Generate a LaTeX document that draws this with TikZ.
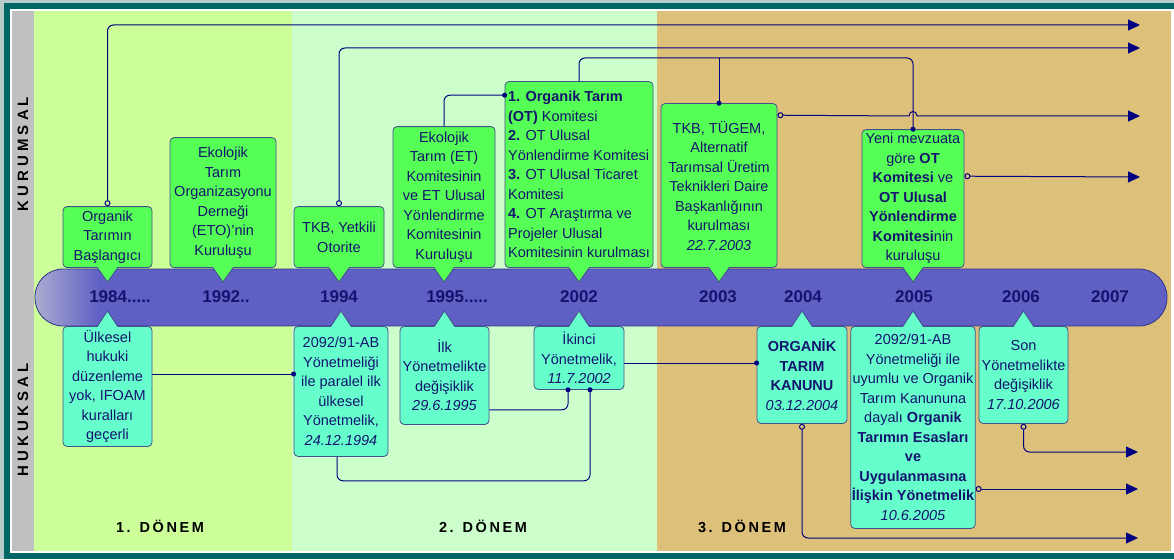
\documentclass[tikz,border=0pt]{standalone}
\usepackage{fontspec}
\setmainfont{Liberation Sans}
\newfontfamily\sidefont[LetterSpace=27]{Liberation Sans}
\newfontfamily\periodfont[LetterSpace=18]{Liberation Sans}
\usetikzlibrary{arrows.meta}

\definecolor{framefringe}{HTML}{B8CCCC}
\definecolor{framecol}{HTML}{006666}
\definecolor{stripgrey}{HTML}{C0C0C0}
\definecolor{zoneone}{HTML}{CCFF99}
\definecolor{zonetwo}{HTML}{CCFFCC}
\definecolor{zonethree}{HTML}{DDC07A}
\definecolor{barblue}{HTML}{5F5FC4}
\definecolor{barlight}{HTML}{ABABD2}
\definecolor{barline}{HTML}{33338C}
\definecolor{topgreen}{HTML}{55FF55}
\definecolor{lowaqua}{HTML}{66FFCC}
\definecolor{boxline}{HTML}{44508A}
\definecolor{navytext}{HTML}{14146E}
\definecolor{linknavy}{HTML}{000080}

\begin{document}
\begin{tikzpicture}[x=1pt, y=-1pt,
    tag/.style={draw=boxline, line width=0.8pt, rounded corners=4pt, align=center,
        text=navytext, font=\fontsize{14.5}{19.5}\selectfont, inner xsep=1pt, inner ysep=0pt},
    toptag/.style={tag, fill=topgreen, anchor=south},
    lowtag/.style={tag, fill=lowaqua, anchor=north},
    yearlabel/.style={font=\fontsize{17}{20}\selectfont\bfseries, text=navytext},
    periodlabel/.style={font=\periodfont\fontsize{14.5}{18}\selectfont\bfseries},
    sidelabel/.style={font=\sidefont\fontsize{15}{18}\selectfont\bfseries, rotate=90},
    link/.style={draw=linknavy, line width=1pt, rounded corners=6pt},
    dotend/.style={-{Circle[length=5pt]}, shorten >=-2.5pt},
    ringarrow/.style={{Circle[open, length=6pt, width=6pt]}-{Triangle[length=12pt, width=11pt]}}]
    \useasboundingbox (0,0) rectangle (1174,559);

    % --- frame and periods ---
    \fill[framefringe] (0,0) rectangle (1174,559);
    \fill[framecol] (4,3) rectangle (1174,559);
    \fill[white] (10,9) rectangle (1174,553);
    \fill[stripgrey] (12,11) rectangle (34,551);
    \fill[zoneone] (34,11) rectangle (292,551);
    \fill[zonetwo] (292,11) rectangle (657,551);
    \fill[zonethree] (657,11) rectangle (1171,551);

    \node[sidelabel] (kurumsal) at (23,154) {KURUMSAL};
    \node[sidelabel] (hukuksal) at (23,420) {HUKUKSAL};

    \node[periodlabel] (d1) at (160,526) {1. DÖNEM};
    \node[periodlabel] (d2) at (483,526) {2. DÖNEM};
    \node[periodlabel] (d3) at (742,526) {3. DÖNEM};

    % --- time bar ---
    \begin{scope}
        \clip[rounded corners=28pt] (35,269) rectangle (1167,326);
        \fill[barblue] (35,269) rectangle (1167,326);
        \shade[left color=barlight, right color=barblue] (35,269) rectangle (100,326);
    \end{scope}
    \draw[barline, line width=0.8pt, rounded corners=28pt] (35,269) rectangle (1167,326);

    \node[yearlabel] (y1984) at (120,297) {1984.....};
    \node[yearlabel] (y1992) at (226,297) {1992..};
    \node[yearlabel] (y1994) at (339,297) {1994};
    \node[yearlabel] (y1995) at (457,297) {1995.....};
    \node[yearlabel] (y2002) at (579,297) {2002};
    \node[yearlabel] (y2003) at (718,297) {2003};
    \node[yearlabel] (y2004) at (803,297) {2004};
    \node[yearlabel] (y2005) at (914,297) {2005};
    \node[yearlabel] (y2006) at (1021,297) {2006};
    \node[yearlabel] (y2007) at (1110,297) {2007};

    % --- institutional (upper) ---
    \node[toptag, minimum width=89pt, minimum height=61pt] (t1) at (107.5,268) {Organik\\Tarımın\\Başlangıcı};
    \node[toptag, minimum width=106pt, minimum height=130pt] (t2) at (223,268) {Ekolojik\\Tarım\\Organizasyonu\\Derneği\\(ETO)’nin\\Kuruluşu};
    \node[toptag, minimum width=90pt, minimum height=61pt] (t3) at (339,268) {TKB, Yetkili\\Otorite};
    \node[toptag, minimum width=102pt, minimum height=141pt] (t4) at (444,268) {Ekolojik\\Tarım (ET)\\Komitesinin\\ve ET Ulusal\\Yönlendirme\\Komitesinin\\Kuruluşu};
    \node[toptag, minimum width=148pt, minimum height=186pt, align=left] (t5) at (579,268) {\textbf{1. Organik Tarım}\\\textbf{(OT)} Komitesi\\\textbf{2.} OT Ulusal\\Yönlendirme Komitesi\\\textbf{3.} OT Ulusal Ticaret\\Komitesi\\\textbf{4.} OT Araştırma ve\\Projeler Ulusal\\Komitesinin kurulması};
    \node[toptag, minimum width=116pt, minimum height=164pt] (t6) at (719,268) {TKB, TÜGEM,\\Alternatif\\Tarımsal Üretim\\Teknikleri Daire\\Başkanlığının\\kurulması\\\textit{22.7.2003}};
    \node[toptag, minimum width=102pt, minimum height=138pt] (t7) at (913,268) {Yeni mevzuata\\göre \textbf{OT}\\\textbf{Komitesi} ve\\\textbf{OT Ulusal}\\\textbf{Yönlendirme}\\\textbf{Komitesi}nin\\kuruluşu};

    \foreach \tg in {t1,t2,t3,t4,t5,t6,t7} {
        \fill[topgreen] ([xshift=-10pt,yshift=1pt]\tg.south) -- ([yshift=-14pt]\tg.south) -- ([xshift=10pt,yshift=1pt]\tg.south) -- cycle;
        \draw[boxline, line width=0.8pt] ([xshift=-10pt]\tg.south) -- ([yshift=-14pt]\tg.south) -- ([xshift=10pt]\tg.south);
    }

    % --- legal (lower) ---
    \node[lowtag, minimum width=89pt, minimum height=120pt] (b1) at (107.5,326) {Ülkesel\\hukuki\\düzenleme\\yok, IFOAM\\kuralları\\geçerli};
    \node[lowtag, minimum width=94pt, minimum height=130pt] (b2) at (341,326) {2092/91-AB\\Yönetmeliği\\ile paralel ilk\\ülkesel\\Yönetmelik,\\\textit{24.12.1994}};
    \node[lowtag, minimum width=89pt, minimum height=98pt] (b3) at (444.5,326) {İlk\\Yönetmelikte\\değişiklik\\\textit{29.6.1995}};
    \node[lowtag, minimum width=90pt, minimum height=63pt] (b4) at (579,326) {İkinci\\Yönetmelik,\\\textit{11.7.2002}};
    \node[lowtag, minimum width=90pt, minimum height=97pt] (b5) at (802,326) {\textbf{ORGANİK}\\\textbf{TARIM}\\\textbf{KANUNU}\\\textit{03.12.2004}};
    \node[lowtag, minimum width=122pt, minimum height=202pt] (b6) at (913,326) {2092/91-AB\\Yönetmeliği ile\\uyumlu ve Organik\\Tarım Kanununa\\dayalı \textbf{Organik}\\\textbf{Tarımın Esasları}\\\textbf{ve}\\\textbf{Uygulanmasına}\\\textbf{İlişkin Yönetmelik}\\\textit{10.6.2005}};
    \node[lowtag, minimum width=89pt, minimum height=97pt] (b7) at (1023.5,326) {Son\\Yönetmelikte\\değişiklik\\\textit{17.10.2006}};

    \foreach \tg in {b1,b2,b3,b4,b5,b6,b7} {
        \fill[lowaqua] ([xshift=-10pt,yshift=-1pt]\tg.north) -- ([yshift=15pt]\tg.north) -- ([xshift=10pt,yshift=-1pt]\tg.north) -- cycle;
        \draw[boxline, line width=0.8pt] ([xshift=-10pt]\tg.north) -- ([yshift=15pt]\tg.north) -- ([xshift=10pt]\tg.north);
    }

    % --- connectors ---
    \coordinate (e1) at (1140,25);
    \coordinate (e2) at (1140,48);
    \coordinate (e3) at (1140,116);
    \coordinate (e4) at (1140,177);
    \coordinate (e5) at (1138,452);
    \coordinate (e6) at (1138,489);
    \coordinate (e7) at (1138,538);
    \coordinate (rail) at (913,58);

    \draw[link, ringarrow] (t1.north) |- (e1);
    \draw[link, ringarrow] (t3.north) |- (e2);
    \draw[link, dotend] (t4.north) |- ([yshift=-14pt]t5.north west);
    \draw[link, dotend] (t5.north) |- (rail) -- (t7.north);
    \draw[link, dotend] (t6.north |- rail) -- (t6.north);
    \draw[link, sharp corners, ringarrow] ([yshift=-12pt]t6.north east) -- (909,116) .. controls (909,110) and (917,110) .. (917,116) -- (e3);
    \draw[link, ringarrow] ([yshift=-47pt]t7.north east) -- (e4);

    \draw[link, dotend] ([yshift=-48pt]b1.north east) coordinate (q1) -- (q1 -| b2.west);
    \draw[link, dotend] ([xshift=-4pt]b2.south) -- ++(0,24) -| ([xshift=11pt]b4.south);
    \draw[link, dotend] ([yshift=15pt]b3.south east) -| ([xshift=-11pt]b4.south);
    \draw[link, dotend] ([yshift=-37pt]b4.north east) coordinate (q4) -- (q4 -| b5.west);
    \draw[link, ringarrow] (b5.south) |- (e7);
    \draw[link, ringarrow] ([yshift=-163pt]b6.north east) -- (e6);
    \draw[link, ringarrow] (b7.south) |- (e5);
\end{tikzpicture}
\end{document}
